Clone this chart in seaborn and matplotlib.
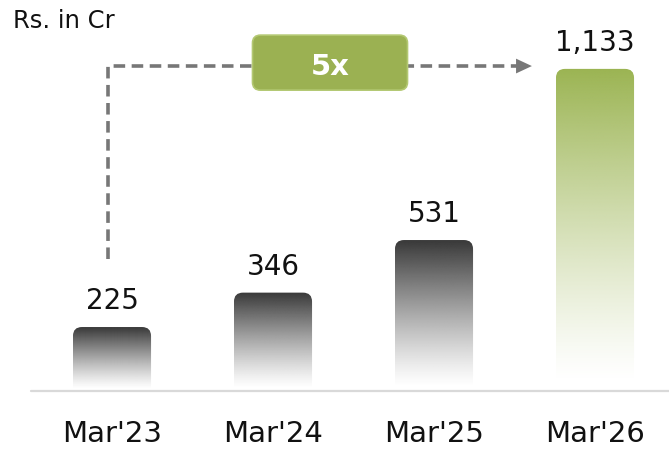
import numpy as np
import pandas as pd
import matplotlib
matplotlib.use("Agg")
import matplotlib.pyplot as plt
import seaborn as sns
from matplotlib.patches import FancyBboxPatch
from matplotlib.colors import to_rgb

# ---- data ----
categories = ["Mar'23", "Mar'24", "Mar'25", "Mar'26"]
values = [225, 346, 531, 1133]
value_labels = ["225", "346", "531", "1,133"]
unit_label = "Rs. in Cr"
growth_label = "5x"

sns.set_theme(style="white")
plt.rcParams['font.family'] = ['DejaVu Sans']

W, H = 669, 452
fig = plt.figure(figsize=(W / 100, H / 100), dpi=100)
ax_bottom = (H - 392) / H
ax = fig.add_axes([0, ax_bottom, 1, 1 - ax_bottom])

df = pd.DataFrame({"period": categories, "value": values})
sns.barplot(data=df, x="period", y="value", ax=ax, width=0.485,
            color="#444444", errorbar=None)

xlim = (-0.6957, 3.4596)
ylim = (0, 392 / 0.2843)
ax.set_xlim(*xlim)
ax.set_ylim(*ylim)
for s in ax.spines.values():
    s.set_visible(False)
ax.set_xlabel("")
ax.set_ylabel("")
ax.set_yticks([])
ax.tick_params(axis='x', length=0, pad=20.5, labelsize=21, labelcolor="#111111")

# pixel scales for rounded shapes
px_x = W * 1.0 / (xlim[1] - xlim[0])
px_y = H * (1 - ax_bottom) / (ylim[1] - ylim[0])
aspect = px_x / px_y

gray = to_rgb("#383838")
green = to_rgb("#9BB452")
n = 256
t = np.linspace(0, 1, n)  # 0 bottom -> 1 top

for i, p in enumerate(list(ax.patches)):
    x, y0 = p.get_x(), p.get_y()
    w, h = p.get_width(), p.get_height()
    p.set_visible(False)
    col = green if i == len(values) - 1 else gray
    alpha = np.clip((t - 0.03) / 0.97, 0, 1) ** 1.2
    img = np.zeros((n, 1, 4))
    img[:, 0, :3] = col
    img[:, 0, 3] = alpha
    clip = FancyBboxPatch((x, y0 - 40), w, h + 40,
                          boxstyle=f"round,pad=0,rounding_size={9 / px_x}",
                          mutation_aspect=aspect, fc="none", ec="none",
                          transform=ax.transData)
    ax.add_patch(clip)
    im = ax.imshow(img, extent=(x, x + w, y0, y0 + h), origin="lower",
                   aspect="auto", interpolation="bilinear", zorder=2)
    im.set_clip_path(clip)
    ax.annotate(value_labels[i], xy=(x + w / 2, y0 + h), xytext=(0, 13.5),
                textcoords="offset points", ha="center", va="baseline",
                fontsize=20, color="#111111")

ax.set_xlim(*xlim)
ax.set_ylim(*ylim)

# baseline
ax.axhline(0, xmin=31 / W, xmax=1, color="#d9d9d9", lw=1.6, clip_on=False, zorder=3)

# growth arrow
acol = "#777777"
x0 = 0 - 4 / px_x
ytop = values[-1] + 10
ybot = values[0] + 240
xtip = 3 - 0.242 - 0.15
ax.plot([x0, x0, xtip - 14 / px_x], [ybot, ytop, ytop], color=acol, lw=2.6,
        linestyle=(0, (3.2, 1.8)), dash_capstyle="butt", solid_capstyle="butt",
        zorder=4)
ax.annotate("", xy=(xtip, ytop), xytext=(xtip - 16 / px_x, ytop),
            arrowprops=dict(arrowstyle="-|>,head_length=0.6,head_width=0.28",
                            mutation_scale=19, color=acol, lw=0,
                            shrinkA=0, shrinkB=0), zorder=5)

# 5x box
bx_c, by_c = 1.354, ytop + 12
bw, bh = 155 / px_x, 55 / px_y
box = FancyBboxPatch((bx_c - bw / 2, by_c - bh / 2), bw, bh,
                     boxstyle=f"round,pad=0,rounding_size={8 / px_x}",
                     mutation_aspect=aspect, fc="#9BB152", ec="#B3C872", lw=1.2,
                     transform=ax.transData, zorder=6)
ax.add_patch(box)
ax.text(bx_c, by_c, growth_label, ha="center", va="center_baseline", fontsize=21,
        fontweight="bold", color="white", zorder=7)

fig.text(13 / W, (H - 27.5) / H, unit_label, ha="left", va="baseline",
         fontsize=17.5, color="#111111")

fig.savefig("out.png", dpi=100)
